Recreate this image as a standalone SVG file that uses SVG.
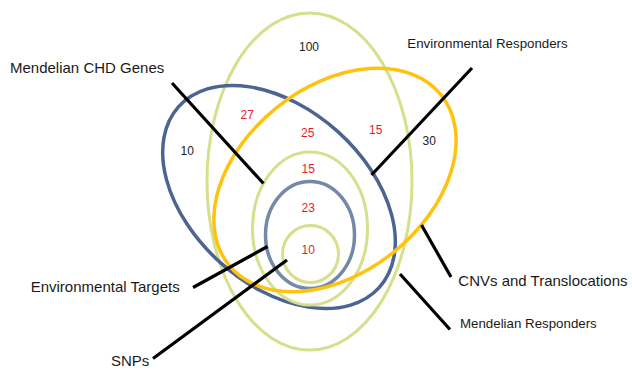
<svg xmlns="http://www.w3.org/2000/svg" width="632" height="370" viewBox="0 0 632 370">
<style>
.e{fill:none}
.g{stroke:#d6e08c;stroke-width:3}
.b{stroke:#4c6491;stroke-width:3.5}
.bg{stroke:#7488a8;stroke-width:3.5}
.y{stroke:#ffc20e;stroke-width:3.5}
.ln{stroke:#000;stroke-width:3.2;stroke-linecap:butt}
.lab{font-family:"Liberation Sans",Arial,sans-serif;fill:#1a1a1a}
.n{font-family:"Liberation Sans",Arial,sans-serif;font-size:12px;text-anchor:middle;fill:#222}
.r{fill:#e8192c}
</style>
<rect width="632" height="370" fill="#fff"/>
<g id="mendelian-responders"><ellipse class="e g" cx="309.5" cy="181.5" rx="102.5" ry="168.5"/></g>
<g id="mendelian-chd-genes"><ellipse class="e b" cx="279" cy="197" rx="135" ry="88" transform="rotate(42 279 197)"/></g>
<g id="environmental-targets"><ellipse class="e g" cx="310" cy="228.5" rx="57.5" ry="76.5"/></g>
<g id="cnvs-translocations"><ellipse class="e bg" cx="310" cy="235" rx="44.5" ry="53.5"/></g>
<g id="snps"><ellipse class="e g" cx="310.5" cy="254" rx="28" ry="28.5"/></g>
<g id="environmental-responders"><ellipse class="e y" cx="335" cy="180" rx="136" ry="93" transform="rotate(-38.6 335 180)"/></g>
<g id="connectors">
<line class="ln" x1="172" y1="83" x2="263.5" y2="183.5"/>
<line class="ln" x1="472" y1="68" x2="371.5" y2="175"/>
<line class="ln" x1="421.5" y1="225" x2="451" y2="277"/>
<line class="ln" x1="400" y1="274" x2="450" y2="329.5"/>
<line class="ln" x1="193" y1="287.5" x2="267.5" y2="246.5"/>
<line class="ln" x1="153" y1="358.5" x2="287" y2="260"/>
</g>
<g id="labels">
<text class="lab" x="10" y="73.3" font-size="15">Mendelian CHD Genes</text>
<text class="lab" x="407.3" y="48.3" font-size="13.3">Environmental Responders</text>
<text class="lab" x="458.3" y="286" font-size="15">CNVs and Translocations</text>
<text class="lab" x="460" y="328.3" font-size="13.3">Mendelian Responders</text>
<text class="lab" x="30.7" y="291.7" font-size="15">Environmental Targets</text>
<text class="lab" x="111" y="366" font-size="15">SNPs</text>
</g>
<g id="counts">
<text class="n" x="309" y="50.7">100</text>
<text class="n" x="187.3" y="155">10</text>
<text class="n" x="429.3" y="145">30</text>
<text class="n r" x="247.3" y="119">27</text>
<text class="n r" x="307.7" y="137.3">25</text>
<text class="n r" x="375.7" y="134">15</text>
<text class="n r" x="308.3" y="172.7">15</text>
<text class="n r" x="308.3" y="211.7">23</text>
<text class="n r" x="308.3" y="254.3">10</text>
</g>
</svg>
